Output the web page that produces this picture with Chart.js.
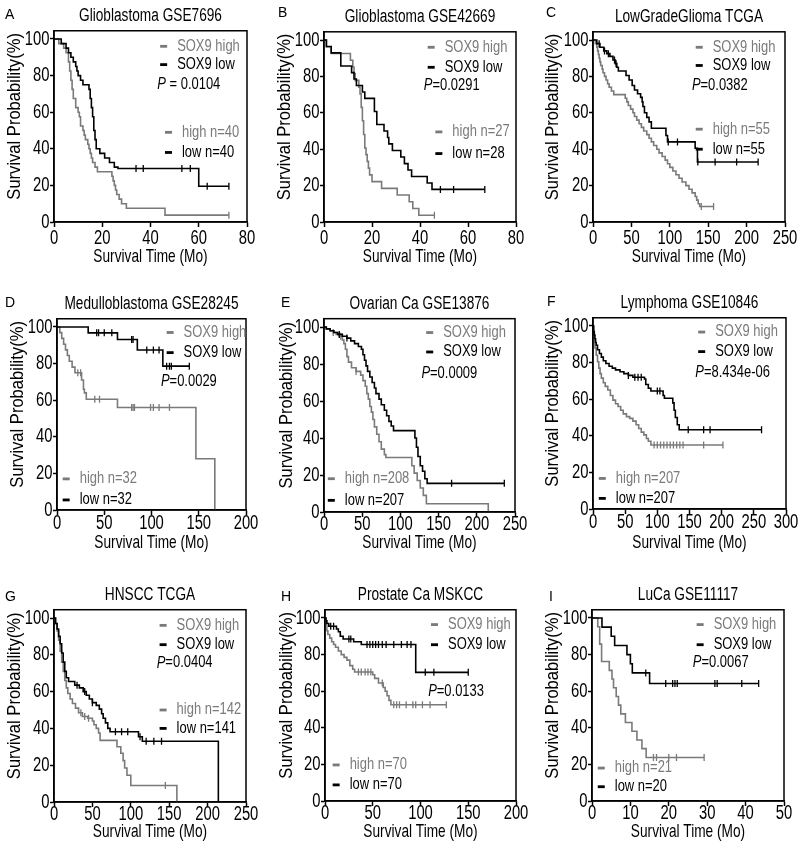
<!DOCTYPE html>
<html>
<head>
<meta charset="utf-8">
<script src="https://cdn.jsdelivr.net/npm/chart.js@4.4.1/dist/chart.umd.min.js"></script>
<style>
  html, body { margin: 0; padding: 0; background: #fff; }
  #wrap { position: relative; width: 800px; height: 853px; }
  canvas { position: absolute; }
</style>
</head>
<body>
<div id="wrap"></div>
<script>
// ---- panel texts ----
const letters = ['A', 'B', 'C', 'D', 'E', 'F', 'G', 'H', 'I'];
const titles = ['Glioblastoma GSE7696', 'Glioblastoma GSE42669', 'LowGradeGlioma TCGA',
  'Medulloblastoma GSE28245', 'Ovarian Ca GSE13876', 'Lymphoma GSE10846',
  'HNSCC TCGA', 'Prostate Ca MSKCC', 'LuCa GSE11117'];
const pTexts = [' = 0.0104', '=0.0291', '=0.0382', '=0.0029', '=0.0009', '=8.434e-06', '=0.0404', '=0.0133', '=0.0067'];
const nHigh = [40, 27, 55, 32, 208, 207, 142, 70, 21];
const nLow = [40, 28, 55, 32, 207, 207, 141, 70, 20];
const xMax = [80, 80, 250, 200, 250, 300, 250, 200, 50];
const xStep = [20, 20, 50, 50, 50, 50, 50, 50, 10];
const yTicks = [0, 20, 40, 60, 80, 100];

// ---- Kaplan-Meier curves [time (Mo), survival %] ----
const A_high = [[0,100],[2,97.5],[4,95],[5,92.5],[6,87.5],[6.5,82.5],[7,77.5],[7.5,72.5],[8,67.5],[9,62.5],[10,60],[10.5,57.5],[11,52.5],[12,50],[12.5,47.5],[13,45],[14,42.5],[14.5,40],[15,37.5],[15.5,35],[16,32.5],[17,30],[18,27.5],[24,25],[24.5,22.5],[25,20],[25.5,17.5],[26,15],[27,12.5],[28,10],[30,7.5],[46,3.75],[72.5,3.75]];
const A_low = [[0,100],[3,97.5],[5,95],[6,92.5],[7,90],[8,87.5],[9,85],[9.5,82.5],[10,80],[11,77.5],[12,75],[14.5,72.5],[15,67.5],[15.5,62.5],[16,57.5],[16.5,50],[17,45],[17.5,40],[19,37.5],[21,35],[23,32.5],[25,30],[26.5,29.2],[60,19.5],[72.5,19.5]];
const A_highCens = [72.5];
const A_lowCens = [34, 37, 53, 56.5, 63.5, 72.5];

const B_high = [[0,100],[1,96.3],[3,92.6],[11,88.9],[12,85.2],[12.5,81.5],[13,77.8],[14.5,74.1],[15,70.4],[15.5,63],[16,55.6],[16.5,48.1],[17,40.7],[17.5,37],[18,33.3],[18.5,29.6],[19,25.9],[20,22.2],[24,18.5],[30.5,14.8],[35.5,11.1],[37,7.4],[39.5,3.7],[46,3.7]];
const B_low = [[0,100],[1,96.4],[3,92.9],[7,85.7],[11.5,82.1],[12.5,78.6],[13.5,75],[16,71.4],[17,67.9],[21,60.7],[22,53.6],[25,50],[26.5,46.4],[27,42.9],[28.5,39.3],[32,35.7],[33.5,32.1],[35,28.6],[36.5,25],[43,21.4],[45,17.9],[67,17.9]];
const B_highCens = [46];
const B_lowCens = [48.5, 54, 67];

const C_high = [[0,100],[3,98],[5,96],[6,94],[7,92],[8,90],[9,88],[10,86],[12,84],[13,82],[15,80],[17,78],[19,76],[21,74],[24,72],[27,70],[42,68],[44,66],[46,64],[49,62],[52,60],[54,58],[57,56],[60,54],[63,52],[66,50],[70,48],[73,46],[76,44],[79,42],[83,40],[86,38],[90,36],[94,34],[97,32],[100,30],[104,28],[108,26],[112,24],[116,22],[121,20],[125,18],[129,16],[133,14],[135,12],[137,10],[139,8.5],[157,8.5]];
const C_low = [[0,100],[5,98],[9,96],[14,94],[18,92.5],[22,91],[26,89],[29,87],[31,85],[33,83],[43,80.5],[47,78],[51,75],[54,72.5],[58,70.5],[62,68.5],[64,66],[65,63.5],[67,60],[70,57.5],[73,55],[76,51.5],[95,47.5],[97,44],[133,40.5],[136,33],[215,33]];
const C_highCens = [141, 157];
const C_lowCens = [8, 15, 20, 28, 30, 98, 110, 136.5, 159, 187, 215];

const D_high = [[0,100],[3,96.9],[5,93.8],[7,90.6],[9,87.5],[11,84.4],[13,81.3],[16,78.1],[19,75],[26,71],[28,66],[29,64],[31,60.5],[64,56],[147,28],[167,0]];
const D_low = [[0,100],[33,96.8],[64,93.2],[85,87.4],[112,78.6],[140,78.6]];
const D_highCens = [22, 25, 40, 45, 79, 80.5, 82, 99, 102, 108, 119];
const D_lowCens = [42, 44, 50, 58, 79, 80.5, 95, 102, 108, 116, 119, 121, 140];

const E_high = [[0,100],[3,99],[8,98],[12,97],[16,96],[20,95],[24,93],[26,91],[28,88],[30,84],[32,81],[36,78],[42,76],[48,74],[51,71],[54,68],[56,64],[58,61],[60,57],[62,54],[64,50],[66,46],[69,42],[72,38],[75,34],[79,31],[81,29.5],[115,25],[118,21],[122,17],[126,13],[130,9],[134,4.5],[215,0]];
const E_low = [[0,100],[3,99],[8,98],[13,97],[18,96],[24,95],[30,94],[35,92.5],[40,91],[45,89.5],[49,88],[51,85],[53,82],[55,79],[57,76],[60,73],[63,70],[66,67],[68,64],[72,61],[75,58],[79,55],[82,52],[85,49],[88,46.5],[91,44],[119,40],[121,35],[123,30],[126,25],[129,22],[132,18],[135,15.5],[236,15.5]];
const E_highCens = [12, 22, 42];
const E_lowCens = [20, 30, 167, 236];

const F_high = [[0,100],[1,95],[2,91],[3,88],[5,84],[7,80.5],[9,77],[11,74],[13,71.5],[16,69],[19,67],[23,65],[27,62],[31,59.5],[35,57.5],[39,56],[43,54],[47,52],[52,50.5],[57,49.5],[62,48],[67,46],[71,44],[75,42],[79,40.5],[83,38.5],[86,37],[90,35],[202,35]];
const F_low = [[0,100],[1,97],[2,95],[3,93],[4,91],[5,89.5],[7,87],[10,85],[13,83],[16,81],[20,79.5],[25,78],[30,77],[35,76],[42,75],[48,74],[55,73],[62,72],[80,71],[82,68],[86,66],[90,64.5],[109,62],[111,60.5],[124,58],[126,54],[128,50],[131,46],[134,43.3],[262,43.3]];
const F_highCens = [95, 100, 105, 110, 115, 120, 125, 130, 135, 140, 172, 202];
const F_lowCens = [55, 65, 70, 75, 100, 104, 148, 172, 182, 262];

const G_high = [[0,100],[2,97],[4,93],[6,88],[8,82],[10,76],[12,71],[14,66],[16,62],[18,59],[21,56],[24,53.5],[28,51],[32,48.5],[37,46.5],[44,45.5],[50,44],[52,42],[55,40],[58,37.5],[60,33.5],[82,30],[87,26.5],[90,22.5],[92,18.5],[95,14.5],[100,9],[160,0]];
const G_low = [[0,100],[2,97],[4,94],[6,90],[8,86],[10,81],[12,76],[14,71],[16,67.5],[19,65.5],[27,63.5],[33,62],[38,60],[42,58],[46,56],[50,54],[55,52.5],[59,50.5],[62,48],[64,45.5],[67,43],[70,40],[73,38.2],[110,35.5],[115,33],[214,0]];
const G_highCens = [35, 40, 45, 145];
const G_lowCens = [30, 40, 50, 80, 88, 96, 112, 120, 130, 140];

const H_high = [[0,100],[1,96],[2,93],[3,91],[5,89],[7,87],[9,85.5],[11,84],[14,82],[17,80],[20,78.5],[23,77],[26,74],[29,72],[31,70.5],[50,69],[52,67],[56,64.5],[61,62],[63,60],[65,57.5],[67,55],[69,52.6],[127,52.6]];
const H_low = [[0,100],[1,98.5],[2,97],[4,95.5],[12,94],[14,92.5],[16,90],[19,88.5],[30,87],[38,85.5],[95,70.3],[150,70.3]];
const H_highCens = [35, 38, 42, 45, 48, 60, 72, 75, 78, 85, 92, 95, 102, 110, 127];
const H_lowCens = [6, 9, 25, 27, 44, 47, 50, 53, 56, 60, 64, 72, 80, 86, 90, 105, 114, 150];

const I_high = [[0,100],[1.5,95.2],[2,85.7],[2.5,76.2],[4.5,71.4],[5.2,66.7],[5.6,61.9],[6.3,57.1],[6.9,52.4],[7.5,47.6],[8.7,42.9],[10.4,38.1],[11.7,33.3],[13,28.6],[14.1,23.8],[29.2,23.8]];
const I_low = [[0,100],[2.6,95],[5,90],[5.9,85],[9.1,80],[10,75],[10.5,70],[15,64.2],[43.4,64.2]];
const I_highCens = [16, 16.8, 20, 22, 29.2];
const I_lowCens = [14, 19.2, 21, 21.6, 22.2, 32, 32.6, 39, 43.4];

const highCurves = [A_high, B_high, C_high, D_high, E_high, F_high, G_high, H_high, I_high];
const lowCurves = [A_low, B_low, C_low, D_low, E_low, F_low, G_low, H_low, I_low];
const highCens = [A_highCens, B_highCens, C_highCens, D_highCens, E_highCens, F_highCens, G_highCens, H_highCens, I_highCens];
const lowCens = [A_lowCens, B_lowCens, C_lowCens, D_lowCens, E_lowCens, F_lowCens, G_lowCens, H_lowCens, I_lowCens];

// ---- layout (pixels): canvas x,y,w,h | plot left,right, y of 100%, bottom | y-title x, x-title y | letter x,y | x label offset
const boxes = [
  [0, 0, 265, 285, 54, 247, 39, 222, 15, 257, 5, 15, 16],
  [265, 0, 265, 285, 59, 251, 40, 222, 20, 257, 13, 13, 16],
  [530, 0, 270, 285, 63, 255, 40, 222, 23, 257, 16, 13, 16],
  [0, 285, 265, 280, 57, 246, 42, 225, 18, 258, 5, 18, 13],
  [265, 285, 265, 280, 59, 250, 42, 227, 22, 258, 16, 18, 12],
  [530, 285, 270, 280, 63, 256, 41, 224, 23, 258, 17, 17, 13],
  [0, 565, 265, 288, 54, 246, 53, 237, 15, 267, 5, 32, 12],
  [265, 565, 265, 288, 60, 251, 53, 236, 22, 267, 16, 32, 12],
  [530, 565, 270, 288, 62, 254, 53, 236, 23, 267, 19, 32, 12]
];
// legend placement: legend x (fraction of plot width), y of "high"/"low" rows, P x, P y, n x, n y rows
const notePos = [
  [0.55, 96, 86, 0.535, 75, 0.575, 49, 38],
  [0.54, 96, 85, 0.52, 75, 0.58, 49.5, 37.6],
  [0.535, 96, 86, 0.515, 75, 0.535, 51, 40],
  [0.58, 97, 86, 0.55, 70, 0.03, 17, 5.5],
  [0.535, 97, 86.5, 0.51, 75, 0.02, 18, 6.3],
  [0.545, 96.7, 86, 0.53, 74.5, 0.03, 16.7, 5.8],
  [0.55, 96, 85.5, 0.535, 75.5, 0.55, 50, 40],
  [0.555, 96.4, 85.4, 0.54, 60, 0.04, 19.7, 8.8],
  [0.545, 96.4, 85.4, 0.525, 75.4, 0.03, 18, 7.8]
];

const FONT = "'Liberation Sans', Arial, Helvetica, sans-serif";
const GREY = '#7a7a7a';
const Y_MAX = 104.5;

function levelAt(curve, t) {
  let s = curve[0][1];
  for (const [x, y] of curve) if (x <= t) s = y;
  return s;
}

// condensed text: font size, horizontal squeeze
function narrowText(ctx, text, x, y, size, sx, align, style, rot) {
  ctx.save();
  ctx.translate(x, y);
  if (rot) ctx.rotate(rot);
  ctx.scale(sx, 1);
  ctx.font = (style || '') + ' ' + size + 'px ' + FONT;
  ctx.textAlign = align;
  ctx.textBaseline = 'middle';
  ctx.fillText(text, 0, 0);
  const w = ctx.measureText(text).width * sx;
  ctx.restore();
  return w;
}

// frame, tick labels, titles, panel letter and in-plot annotations
const decor = {
  id: 'decor',
  afterDraw(chart, args, o) {
    const { ctx, chartArea: a, scales: { x, y } } = chart;
    const W = a.right - a.left;
    ctx.save();
    ctx.strokeStyle = '#000';
    ctx.lineWidth = 1.5;
    ctx.strokeRect(a.left, a.top, W, a.bottom - a.top);

    ctx.fillStyle = '#000';
    x.ticks.forEach(t => narrowText(ctx, String(t.value), x.getPixelForValue(t.value), a.bottom + o.xlo, 20, 0.74, 'center'));
    y.ticks.forEach(t => narrowText(ctx, String(t.value), a.left - 4.5, y.getPixelForValue(t.value), 20, 0.74, 'right'));

    const cxm = (a.left + a.right) / 2;
    narrowText(ctx, o.title, cxm, a.top - 15, 18, 0.76, 'center');
    narrowText(ctx, 'Survival Time (Mo)', cxm, o.xty, 19, 0.72, 'center');
    narrowText(ctx, 'Survival Probability(%)', o.ytx, (a.top + a.bottom) / 2 - 10, 18, 0.92, 'center', '', -Math.PI / 2);
    ctx.font = "14px 'Liberation Sans', Arial, sans-serif";
    ctx.textAlign = 'left';
    ctx.textBaseline = 'middle';
    ctx.fillText(o.letter, o.lx, o.ly);

    const item = (fx, v, color, text) => {
      const px = a.left + fx * W, yy = y.getPixelForValue(v);
      ctx.fillStyle = color;
      ctx.fillRect(px, yy - 1.4, 7, 2.8);
      narrowText(ctx, text, px + 17, yy, 16, 0.81, 'left');
    };
    const p = o.pos;
    item(p[0], p[1], GREY, 'SOX9 high');
    item(p[0], p[2], '#000', 'SOX9 low');
    item(p[5], p[6], GREY, 'high n=' + o.nh);
    item(p[5], p[7], '#000', 'low n=' + o.nl);

    ctx.fillStyle = '#000';
    const px = a.left + p[3] * W, py = y.getPixelForValue(p[4]);
    const pw = narrowText(ctx, 'P', px, py, 16, 0.81, 'left', 'italic');
    narrowText(ctx, o.p, px + pw, py, 16, 0.81, 'left');
    ctx.restore();
  }
};

const wrap = document.getElementById('wrap');

titles.forEach((title, i) => {
  const [cx, cy, cw, ch, l, r, y100, b, ytx, xty, lx, ly, xlo] = boxes[i];
  const top = b - (b - y100) * Y_MAX / 100;
  const canvas = document.createElement('canvas');
  canvas.width = cw; canvas.height = ch;
  canvas.style.left = cx + 'px'; canvas.style.top = cy + 'px';
  wrap.appendChild(canvas);

  const hi = highCurves[i], lo = lowCurves[i];
  const lineSet = (curve, color) => ({
    data: curve.map(([t, v]) => ({ x: t, y: v })),
    showLine: true, stepped: true, borderColor: color, borderWidth: 1.6,
    pointRadius: 0, fill: false
  });
  const censSet = (times, curve, color) => ({
    data: times.map(t => ({ x: t, y: levelAt(curve, t) })),
    showLine: false, pointStyle: 'line', rotation: 90, pointRadius: 3.5,
    borderColor: color, backgroundColor: color, borderWidth: 1.3
  });

  new Chart(canvas, {
    type: 'scatter',
    data: {
      datasets: [
        lineSet(lo, '#000'),
        censSet(lowCens[i], lo, '#000'),
        lineSet(hi, GREY),
        censSet(highCens[i], hi, GREY)
      ]
    },
    options: {
      responsive: false,
      animation: false,
      layout: { padding: { left: 0, top: top, right: cw - r, bottom: 0 } },
      plugins: {
        legend: { display: false },
        tooltip: { enabled: false },
        decor: { title, letter: letters[i], lx, ly, ytx, xty, xlo, pos: notePos[i], p: pTexts[i], nh: nHigh[i], nl: nLow[i] }
      },
      scales: {
        x: {
          type: 'linear', min: 0, max: xMax[i],
          afterFit: s => { s.height = ch - b; },
          ticks: { display: false, stepSize: xStep[i] },
          grid: { drawOnChartArea: false, tickLength: 5, tickColor: '#000', tickWidth: 1.5 },
          border: { color: '#000', width: 1.5 }
        },
        y: {
          min: 0, max: Y_MAX,
          afterFit: s => { s.width = l; },
          afterBuildTicks: s => { s.ticks = yTicks.map(v => ({ value: v })); },
          ticks: { display: false },
          grid: { drawOnChartArea: false, tickLength: 4, tickColor: '#000', tickWidth: 1.5 },
          border: { color: '#000', width: 1.5 }
        }
      }
    },
    plugins: [decor]
  });
});
</script>
</body>
</html>
